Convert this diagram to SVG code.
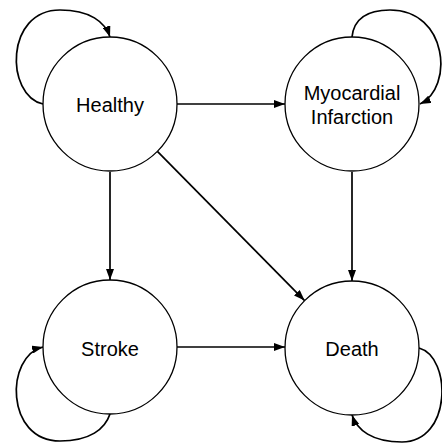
<svg xmlns="http://www.w3.org/2000/svg" width="442" height="443" viewBox="0 0 442 443">
<style>
.node circle{fill:#fff;stroke:#000;stroke-width:1.3}
.node text{font-family:"Liberation Sans",Arial,sans-serif;font-size:20px;fill:#000;text-anchor:middle}
.edge{fill:none;stroke:#000;stroke-width:1.7;marker-end:url(#arr)}
</style>
<defs>
<marker id="arr" viewBox="0 0 11 8" refX="11" refY="4" markerWidth="11" markerHeight="8" orient="auto" markerUnits="userSpaceOnUse"><path d="M0,0 L11,4 L0,8 z" fill="#000"/></marker>
</defs>
<rect width="442" height="443" fill="#fff"/>
<g id="connectors">
<path class="edge" d="M177,104 L285,104"/>
<path class="edge" d="M110,172 L110,280"/>
<path class="edge" d="M157.4,151.4 L304.6,300.6"/>
<path class="edge" d="M352,172 L352,281"/>
<path class="edge" d="M177,347 L285,347"/>
<path class="edge" d="M43,104 C5,95 5,10 60,10 C90,10 105,22 110,37"/>
<path class="edge" d="M352,37 C354,18 368,10 390,10 C448,10 454,88 420,104"/>
<path class="edge" d="M110,414 C105,429 90,441 60,441 C5,441 5,356 43,347"/>
<path class="edge" d="M419,348 C452,357 452,442 402,442 C372,442 357,430 352,415"/>
</g>
<g id="healthy" class="node"><circle cx="110" cy="104" r="67"/><text x="110" y="112">Healthy</text></g>
<g id="mi" class="node"><circle cx="352" cy="104" r="67"/><text x="352" y="100">Myocardial</text><text x="352" y="124">Infarction</text></g>
<g id="stroke" class="node"><circle cx="110" cy="347" r="67"/><text x="110" y="356">Stroke</text></g>
<g id="death" class="node"><circle cx="352" cy="348" r="67"/><text x="352" y="356">Death</text></g>
</svg>
